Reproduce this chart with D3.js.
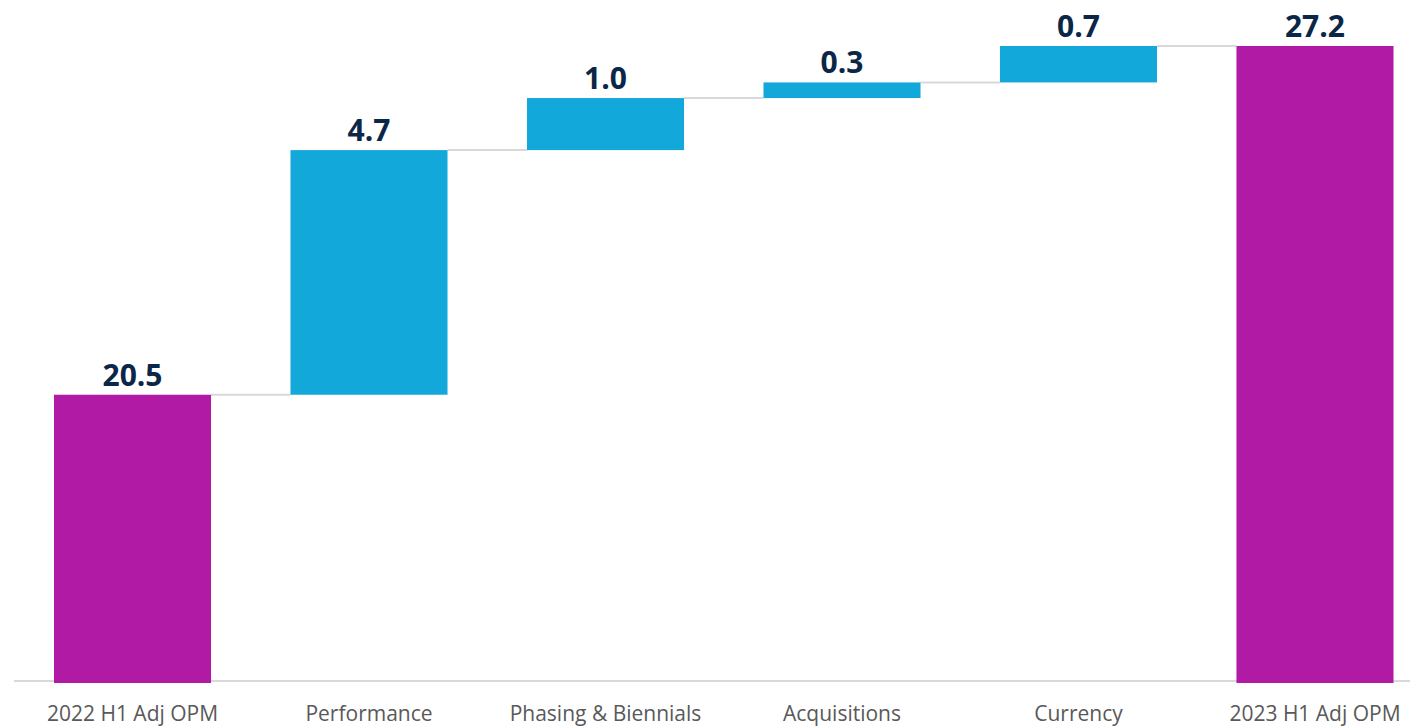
<!DOCTYPE html>
<html>
<head>
<meta charset="utf-8">
<script src="https://cdn.jsdelivr.net/npm/d3@7"></script>
<style>
  html, body { margin: 0; padding: 0; background: #ffffff; }
  svg { display: block; }
</style>
</head>
<body>
<svg id="chart" width="1414" height="727"></svg>
<script>
const categories = ["2022 H1 Adj OPM", "Performance", "Phasing & Biennials", "Acquisitions", "Currency", "2023 H1 Adj OPM"];
const values = [20.5, 4.7, 1.0, 0.3, 0.7, 27.2];
const kinds = ["total", "delta", "delta", "delta", "delta", "total"];
const valueLabels = ["20.5", "4.7", "1.0", "0.3", "0.7", "27.2"];
const yAxisMin = 15;

const colors = { total: "#B01AA5", delta: "#13A8DA" };

const svg = d3.select("#chart");

// compute waterfall segments
let running = 0;
const segs = categories.map((c, i) => {
  let start, end;
  if (kinds[i] === "total") { start = yAxisMin; end = values[i]; running = values[i]; }
  else { start = running; end = running + values[i]; running = end; }
  return { cat: c, start, end, kind: kinds[i], label: valueLabels[i] };
});

const x = d3.scaleBand().domain(categories).range([6.7, 1440.8]).paddingInner(0.336).paddingOuter(0.2);
const y = d3.scaleLinear().domain([yAxisMin, 27.2]).range([681, 46]);

// baseline
svg.append("line")
  .attr("x1", 14).attr("x2", 1410)
  .attr("y1", y(yAxisMin)).attr("y2", y(yAxisMin))
  .attr("stroke", "#d9d9d9").attr("stroke-width", 2);

// connectors
segs.forEach((s, i) => {
  if (i === segs.length - 1) return;
  const top = Math.max(s.start, s.end);
  svg.append("line")
    .attr("x1", x(s.cat) + x.bandwidth())
    .attr("x2", x(categories[i + 1]))
    .attr("y1", y(top)).attr("y2", y(top))
    .attr("stroke", "#d9d9d9").attr("stroke-width", 2);
});

// bars
svg.selectAll("rect.bar").data(segs).enter().append("rect")
  .attr("class", "bar")
  .attr("x", d => x(d.cat))
  .attr("width", x.bandwidth())
  .attr("y", d => y(Math.max(d.start, d.end)))
  .attr("height", d => Math.abs(y(d.start) - y(d.end)) + (d.kind === "total" ? 2 : 0))
  .attr("fill", d => colors[d.kind]);

// value labels
svg.selectAll("text.val").data(segs).enter().append("text")
  .attr("class", "val")
  .attr("x", d => x(d.cat) + x.bandwidth() / 2)
  .attr("y", d => y(Math.max(d.start, d.end)) - 9)
  .attr("text-anchor", "middle")
  .attr("font-family", "'Open Sans', sans-serif")
  .attr("font-weight", "bold")
  .attr("font-size", 30)
  .attr("fill", "#0B2747")
  .text(d => d.label);

// category axis
const axis = svg.append("g")
  .attr("transform", `translate(0,${y(yAxisMin)})`)
  .call(d3.axisBottom(x).tickSize(0).tickPadding(25));
axis.select(".domain").remove();
axis.selectAll("text")
  .attr("font-family", "'Open Sans', sans-serif")
  .attr("font-size", 21)
  .attr("fill", "#595959");
</script>
</body>
</html>
